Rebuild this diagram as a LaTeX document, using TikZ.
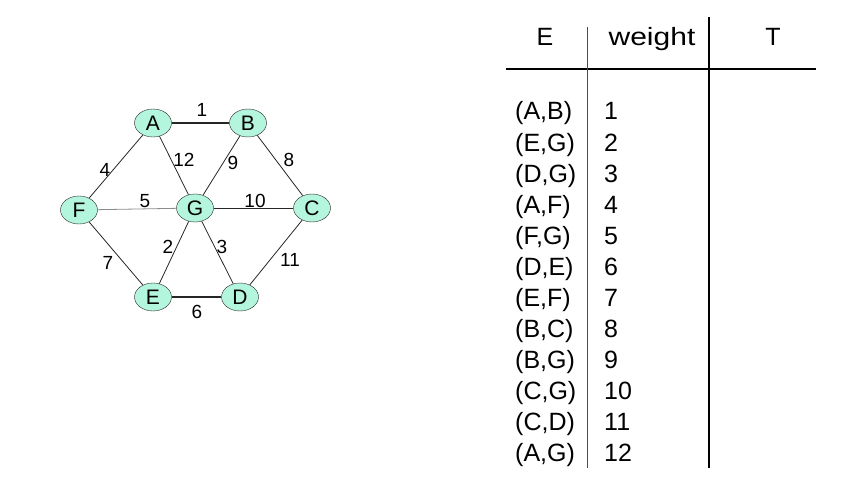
\documentclass[tikz,border=0pt]{standalone}
\usepackage{fontspec}
\setmainfont{Liberation Sans}
\usetikzlibrary{shapes.geometric}
\definecolor{nodeaqua}{RGB}{180,245,222}
\tikzset{
	vertex/.style={ellipse, draw=black!85, fill=nodeaqua, minimum width=37pt, minimum height=28pt, inner sep=0pt, font=\fontsize{21}{21}\selectfont},
	wlabel/.style={inner sep=0pt, font=\fontsize{19}{19}\selectfont},
	edge/.style={draw=black!85, line width=0.8pt},
	cell/.style={inner sep=0pt, anchor=base west, font=\fontsize{25}{25}\selectfont},
	rule/.style={black, line width=1.3pt}
}
\begin{document}
\begin{tikzpicture}[x=1pt,y=-1pt]
			\useasboundingbox (0,0) rectangle (843,484);
			
			% graph
			\node[vertex] (A) at (153,123) {A};
			\node[vertex] (B) at (248,123) {B};
			\node[vertex] (F) at (79,210) {F};
			\node[vertex] (G) at (195,208) {G};
			\node[vertex] (C) at (312,208) {C};
			\node[vertex] (E) at (153,297) {E};
			\node[vertex] (D) at (240,297) {D};
			
			\draw[edge, line width=1.2pt] (A) -- (B);
			\draw[edge] (A) -- (F);
			\draw[edge] (A) -- (G);
			\draw[edge] (B) -- (G);
			\draw[edge] (B) -- (C);
			\draw[edge, draw=black!45] (F) -- (G);
			\draw[edge] (G) -- (C);
			\draw[edge] (F) -- (E);
			\draw[edge] (E) -- (G);
			\draw[edge] (G) -- (D);
			\draw[edge, line width=1.8pt] (E) -- (D);
			\draw[edge] (D) -- (C);
			
			\node[wlabel] (w1) at (202,110) {1};
			\node[wlabel] (w12) at (184,160) {12};
			\node[wlabel] (w9) at (233,163) {9};
			\node[wlabel] (w8) at (289,160) {8};
			\node[wlabel] (w4) at (105,170) {4};
			\node[wlabel] (w5) at (145,201) {5};
			\node[wlabel] (w10) at (255,201) {10};
			\node[wlabel] (w2) at (168,247) {2};
			\node[wlabel] (w3) at (222,247) {3};
			\node[wlabel] (w7) at (108,263) {7};
			\node[wlabel] (w11) at (290,260) {11};
			\node[wlabel] (w6) at (197,312) {6};
			
			% table
			\draw[rule] (506,69) -- (816,69);
			\draw[rule, line width=1pt, black!70] (587,27) -- (587,468);
			\draw[rule] (709,17) -- (709,468);
			\node[cell, anchor=base] (hE) at (545,46) {E};
			\node[cell, anchor=base] (hW) at (652,46) {\scalebox{1.2}[1]{weight}};
			\node[cell, anchor=base] (hT) at (773,46) {T};
			\foreach \e/\w [count=\i] in {{(A,B)}/1,{(E,G)}/2,{(D,G)}/3,{(A,F)}/4,{(F,G)}/5,{(D,E)}/6,{(E,F)}/7,{(B,C)}/8,{(B,G)}/9,{(C,G)}/10,{(C,D)}/11,{(A,G)}/12}
			{
				\node[cell] (e\i) at (515,{120+31*(\i-1)}) {\e};
				\node[cell] (n\i) at (604,{120+31*(\i-1)}) {\w};
			}
\end{tikzpicture}
\end{document}
